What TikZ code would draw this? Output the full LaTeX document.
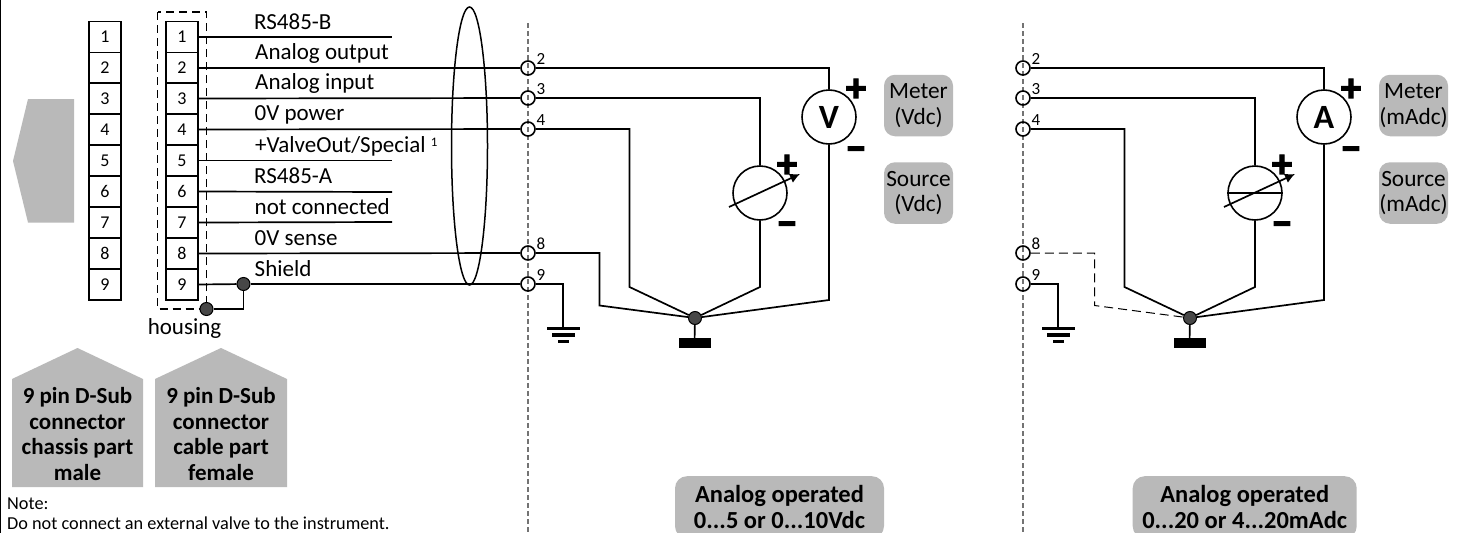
\documentclass[tikz,border=0pt]{standalone}
\usepackage{fontspec}
\usetikzlibrary{arrows.meta}
\setmainfont{Carlito}
\newfontfamily\symfont[FakeBold=3]{Carlito Bold}
\newcommand{\fs}[2]{\fontsize{#1}{#2}\selectfont}
\tikzset{
  x=1pt,y=-1pt,
  wire/.style={line width=1.7pt,line join=miter},
  pinbox/.style={draw,line width=1.9pt,minimum width=32,minimum height=31,inner sep=0,font=\fs{18}{20}},
  term/.style={circle,draw,line width=1.6pt,minimum size=14,inner sep=0},
  hubdot/.style={circle,draw,line width=1pt,fill=black!72,minimum size=13,inner sep=0},
  meter/.style={circle,draw,line width=1.6pt,minimum size=54,inner sep=0},
  sig/.style={anchor=base west,font=\fs{23}{25},inner sep=0},
  tnum/.style={anchor=center,font=\fs{17}{19},inner sep=0},
  greybox/.style={fill=boxgrey,rounded corners=11,inner sep=0,align=center,font=\fs{23.3}{25.5},minimum width=69,minimum height=61.5},
  analog/.style={fill=boxgrey,rounded corners=12,inner sep=0,align=center,font=\bfseries\fs{24.5}{26},minimum height=62,anchor=north},
  houselabel/.style={inner sep=0,align=center,font=\bfseries\fs{23}{25.4}},
  symb/.style={inner sep=0,font=\symfont\fs{40}{42}},
  divider/.style={draw=black!55,line width=1.1pt,dash pattern=on 5pt off 3pt},
}
\definecolor{boxgrey}{HTML}{B9B9B9}
\begin{document}
\begin{tikzpicture}
\useasboundingbox (0,0) rectangle (1460,533);
\clip (0,0) rectangle (1460,533);
\fill[white] (0,0) rectangle (1460,533);
\draw[line width=1.4pt] (0.7,0) -- (0.7,533);
% connector pictograms
\fill[boxgrey] (74,99) -- (28,99) -- (13,161) -- (28,222.5) -- (74,222.5) -- cycle;
\fill[boxgrey] (12,379) -- (77.5,348) -- (143,379) -- (143,487) -- (12,487) -- cycle;
\fill[boxgrey] (155,379) -- (221,348) -- (287,379) -- (287,487) -- (155,487) -- cycle;
\node[houselabel] (lblM) at (77.5,434) {9 pin D-Sub\\connector\\chassis part\\male};
\node[houselabel] (lblF) at (221,434) {9 pin D-Sub\\connector\\cable part\\female};
\node[anchor=base west,inner sep=0,font=\fs{18.25}{20}] (noteA) at (7,509) {Note:};
\node[anchor=base west,inner sep=0,font=\fs{18.25}{20}] (noteB) at (7,529) {Do not connect an external valve to the instrument.};
% pin blocks
\foreach \n/\y in {1/37,2/68,3/98.5,4/129.5,5/160.5,6/191.5,7/222.5,8/253.5,9/284.5}{
  \node[pinbox] (m\n) at (105,\y) {\n};
  \node[pinbox] (f\n) at (182,\y) {\n};
}
\draw[line width=1.1pt,dash pattern=on 8pt off 5pt] (157.5,12) rectangle (206.5,309);
\node[anchor=base,inner sep=0,font=\fs{23}{25}] (housing) at (184.5,334) {housing};
% signal labels
\node[sig] (s1) at (254,29) {RS485-B};
\node[sig] (s2) at (255,59) {Analog output};
\node[sig] (s3) at (255,89) {Analog input};
\node[sig] (s4) at (254.5,120) {0V power};
\node[sig] (s5) at (255,152) {+ValveOut/Special \raisebox{6pt}{\fs{13}{14}1}};
\node[sig] (s6) at (254,183) {RS485-A};
\node[sig] (s7) at (254.5,214) {not connected};
\node[sig] (s8) at (254.5,245) {0V sense};
\node[sig] (s9) at (254.5,276) {Shield};
% unused lines
\coordinate (e1) at (392,37);
\coordinate (e5) at (392,160.5);
\coordinate (e6) at (392,192);
\coordinate (e7) at (392,222);
\foreach \n in {1,5,6,7}{\draw[wire] (f\n.east) -- (e\n);}
% cable shield ellipse
\draw[line width=1.5pt] (469.5,146) ellipse [x radius=18,y radius=139];
% dividers
\draw[divider] (528,23) -- (528,533);
\draw[divider] (1023,23) -- (1023,533);
% terminals
\foreach \n/\y in {2/68,3/98,4/129,8/253,9/284}{
  \node[term] (a\n) at (528,\y) {};
  \node[term] (b\n) at (1023,\y) {};
  \node[tnum] (an\n) at (541,\y-9) {\n};
  \node[tnum] (bn\n) at (1036,\y-9) {\n};
}
% shield hubs
\node[hubdot] (sh) at (243.5,284) {};
\node[hubdot] (hs) at (206.5,309) {};
\foreach \n in {2,3,4,8}{\draw[wire] (f\n.east) -- (a\n);}
\draw[wire] (f9.east) -- (sh);
\draw[wire] (sh) -- (a9);
\draw[wire] (hs) -| (sh);
% left circuit
\node[meter] (V) at (829,117) {\bfseries\fs{34}{36}V};
\node[meter] (G) at (760,193) {};
\node[hubdot] (H) at (695,318) {};
\node[symb] (Vp) at (856,90) {+};
\node[symb] (Vm) at (856,154) {−};
\node[symb] (Gp) at (787,166) {+};
\node[symb] (Gm) at (787,229) {−};
\coordinate (ar0) at (729,207);
\coordinate (ar1) at (800,174);
\draw[line width=1.7pt,-{Latex[length=10pt,width=10pt]}] (ar0) -- (ar1);
\coordinate (v2) at (829,300);
\coordinate (v3) at (760,287);
\coordinate (v4) at (629.5,287);
\coordinate (v8) at (599.5,305.5);
\draw[wire] (a2) -| (V);
\draw[wire] (V) -- (v2) -- (H);
\draw[wire] (a3) -| (G);
\draw[wire] (G) -- (v3) -- (H);
\draw[wire] (a4) -| (v4) -- (H);
\draw[wire] (a8) -| (v8) -- (H);
\coordinate (gnd1) at (563,328.5);
\draw[wire] (a9) -| (gnd1);
\draw[line width=3.5pt] (547,328.5) -- (580,328.5);
\draw[line width=3.5pt] (552,335) -- (575,335);
\draw[line width=3.5pt] (558,341.5) -- (569,341.5);
\node[draw,fill=black,minimum width=31,minimum height=9,inner sep=0] (base1) at (694.5,342.5) {};
\draw[wire] (H) -- (base1);
\node[greybox] (mv) at (918.5,105.5) {Meter\\(Vdc)};
\node[greybox] (sv) at (918.5,193) {Source\\(Vdc)};
\node[analog,minimum width=209] (av) at (779.5,476) {Analog operated\\0...5 or 0...10Vdc};
% right circuit
\node[meter] (A) at (1324,117) {\bfseries\fs{34}{36}A};
\node[meter] (I) at (1255,193) {};
\node[hubdot] (J) at (1190,318) {};
\node[symb] (Ap) at (1351,90) {+};
\node[symb] (Am) at (1351,154) {−};
\node[symb] (Ip) at (1282,166) {+};
\node[symb] (Im) at (1282,229) {−};
\draw[line width=1.7pt] (I.west) -- (I.east);
\coordinate (ir0) at (1224,207);
\coordinate (ir1) at (1295,174);
\draw[line width=1.7pt,-{Latex[length=10pt,width=10pt]}] (ir0) -- (ir1);
\coordinate (w2) at (1324,300);
\coordinate (w3) at (1255,287);
\coordinate (w4) at (1124.5,287);
\coordinate (w8) at (1094.5,305.5);
\draw[wire] (b2) -| (A);
\draw[wire] (A) -- (w2) -- (J);
\draw[wire] (b3) -| (I);
\draw[wire] (I) -- (w3) -- (J);
\draw[wire] (b4) -| (w4) -- (J);
\draw[line width=1pt,dash pattern=on 9pt off 5pt] (b8) -| (w8) -- (J);
\coordinate (gnd2) at (1058,328.5);
\draw[wire] (b9) -| (gnd2);
\draw[line width=3.5pt] (1042,328.5) -- (1075,328.5);
\draw[line width=3.5pt] (1047,335) -- (1070,335);
\draw[line width=3.5pt] (1053,341.5) -- (1064,341.5);
\node[draw,fill=black,minimum width=31,minimum height=9,inner sep=0] (base2) at (1189.5,342.5) {};
\draw[wire] (J) -- (base2);
\node[greybox] (ma) at (1413.5,105.5) {Meter\\(mAdc)};
\node[greybox] (sa) at (1413.5,193) {Source\\(mAdc)};
\node[analog,minimum width=224] (aa) at (1244.7,476) {Analog operated\\0...20 or 4...20mAdc};
\end{tikzpicture}
\end{document}
